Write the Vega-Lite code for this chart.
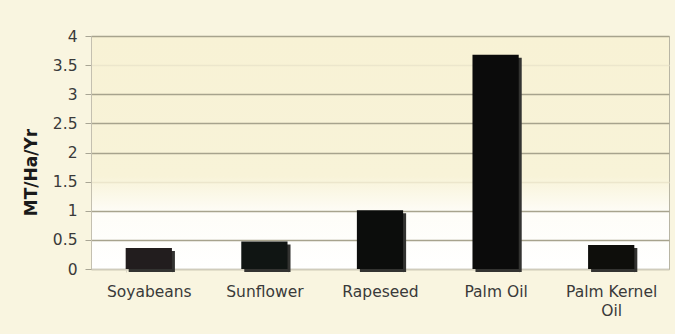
{
  "$schema": "https://vega.github.io/schema/vega-lite/v6.json",
  "width": 578,
  "height": 233,
  "autosize": {"type": "none"},
  "padding": {"left": 91, "top": 36, "right": 6, "bottom": 65},
  "background": "#f9f5e0",
  "config": {
    "font": "DejaVu Sans",
    "view": {
      "stroke": "#b8b5a4",
      "strokeWidth": 1,
      "fill": {
        "gradient": "linear",
        "x1": 0, "y1": 0, "x2": 0, "y2": 1,
        "stops": [
          {"offset": 0, "color": "#f8f2d5"},
          {"offset": 0.6, "color": "#f8f3d8"},
          {"offset": 0.76, "color": "#fefdf8"},
          {"offset": 1, "color": "#ffffff"}
        ]
      }
    }
  },
  "data": {
    "values": [
      {"crop": "Soyabeans", "yield": 0.36},
      {"crop": "Sunflower", "yield": 0.47},
      {"crop": "Rapeseed", "yield": 1.01},
      {"crop": "Palm Oil", "yield": 3.68},
      {"crop": "Palm Kernel Oil", "yield": 0.41}
    ]
  },
  "encoding": {
    "x": {
      "field": "crop",
      "type": "nominal",
      "sort": null,
      "scale": {"paddingInner": 0.6, "paddingOuter": 0.3},
      "axis": {
        "title": null,
        "labelAngle": 0,
        "labelFont": "DejaVu Sans",
        "labelFontSize": 15.5,
        "labelColor": "#3a3a3a",
        "labelPadding": 12,
        "labelLineHeight": 19,
        "labelExpr": "datum.label == 'Palm Kernel Oil' ? ['Palm Kernel', 'Oil'] : datum.label",
        "tickBand": "extent",
        "tickSize": 3,
        "tickColor": "#d8d4c4",
        "domainColor": "#d0ccbc",
        "grid": false
      }
    },
    "y": {
      "field": "yield",
      "type": "quantitative",
      "scale": {"domain": [0, 4], "nice": false},
      "axis": {
        "title": "MT/Ha/Yr",
        "titleFont": "DejaVu Sans",
        "titleFontSize": 17,
        "titleFontWeight": "bold",
        "titleColor": "#1a1a1a",
        "titleX": -55,
        "titleY": 136,
        "titleAngle": -90,
        "titleBaseline": "alphabetic",
        "titleAlign": "center",
        "values": [0, 0.5, 1, 1.5, 2, 2.5, 3, 3.5, 4],
        "format": "~g",
        "labelFont": "DejaVu Sans",
        "labelFontSize": 15.5,
        "labelColor": "#3a3a3a",
        "labelPadding": 8,
        "tickSize": 6,
        "tickColor": "#a8a594",
        "domainColor": "#c4c0b0",
        "grid": true,
        "gridWidth": 1.5,
        "gridColor": {
          "condition": {"test": "datum.value == 1.5 || datum.value == 3.5", "value": "#ece6cc"},
          "value": "#a7a38d"
        }
      }
    }
  },
  "layer": [
    {
      "mark": {"type": "bar", "color": "#333331", "xOffset": 3, "yOffset": 3, "y2Offset": 0}
    },
    {
      "mark": {"type": "bar"},
      "encoding": {
        "color": {
          "field": "crop",
          "type": "nominal",
          "sort": null,
          "legend": null,
          "scale": {
            "domain": ["Soyabeans", "Sunflower", "Rapeseed", "Palm Oil", "Palm Kernel Oil"],
            "range": ["#221d1e", "#101513", "#0c0d0c", "#0b0b0b", "#0e0e0b"]
          }
        }
      }
    }
  ]
}
